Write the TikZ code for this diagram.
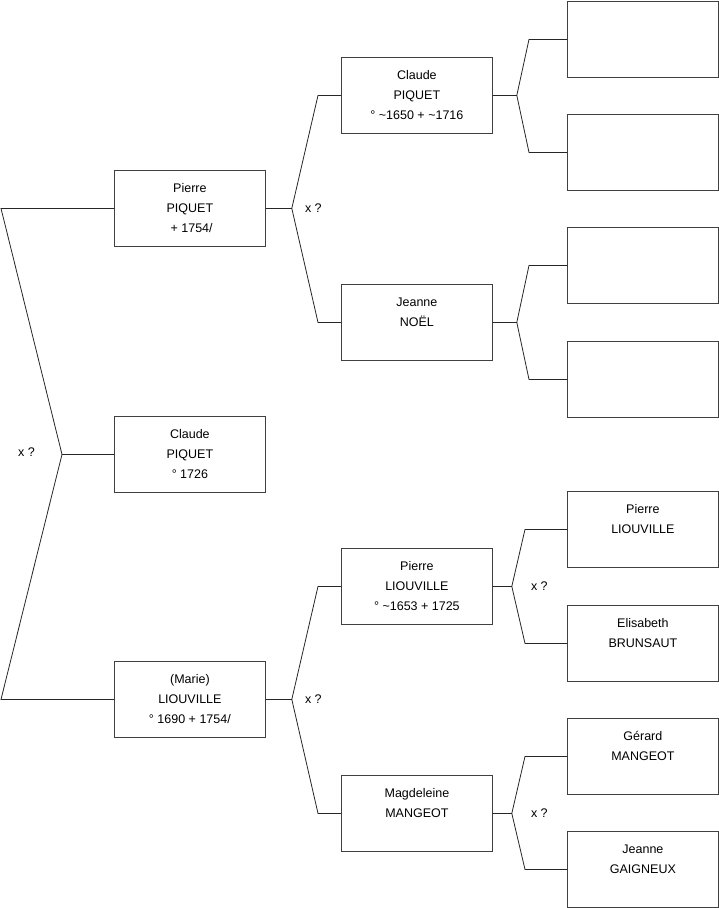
\documentclass[tikz,border=0pt]{standalone}
\usepackage{fontspec}
\setmainfont{Liberation Sans}
\usetikzlibrary{positioning, calc}

\tikzset{
  indbox/.style={draw=black!75, line width=0.8pt, minimum width=151, minimum height=76,
    inner sep=0pt, align=center, anchor=north west, font=\fontsize{12.5}{20}\selectfont},
  link/.style={line width=0.8pt, draw=black!85},
  marr/.style={font=\fontsize{12.5}{20}\selectfont, inner sep=0pt}
}
\newcommand{\indiv}[3]{\strut #1\\\strut #2\\\strut #3}

\begin{document}
\begin{tikzpicture}[x=1pt, y=-1pt]
  \useasboundingbox (0,0) rectangle (719,908);

  % Generation 1
  \node[indbox] (f1) at (114,170) {\indiv{Pierre}{PIQUET}{\ + 1754/}};
  \node[indbox] (c0) at (114,416) {\indiv{Claude}{PIQUET}{° 1726}};
  \node[indbox] (m1) at (114,661) {\indiv{(Marie)}{LIOUVILLE}{° 1690 + 1754/}};

  % Generation 2
  \node[indbox] (ff2) at (341,57)  {\indiv{Claude}{PIQUET}{° \textasciitilde1650 + \textasciitilde1716}};
  \node[indbox] (fm2) at (341,284) {\indiv{Jeanne}{NOËL}{}};
  \node[indbox] (mf2) at (341,548) {\indiv{Pierre}{LIOUVILLE}{° \textasciitilde1653 + 1725}};
  \node[indbox] (mm2) at (341,775) {\indiv{Magdeleine}{MANGEOT}{}};

  % Generation 3
  \node[indbox] (g1) at (567,1)   {};
  \node[indbox] (g2) at (567,114) {};
  \node[indbox] (g3) at (567,227) {};
  \node[indbox] (g4) at (567,341) {};
  \node[indbox] (g5) at (567,491) {\indiv{Pierre}{LIOUVILLE}{}};
  \node[indbox] (g6) at (567,605) {\indiv{Elisabeth}{BRUNSAUT}{}};
  \node[indbox] (g7) at (567,718) {\indiv{Gérard}{MANGEOT}{}};
  \node[indbox] (g8) at (567,831) {\indiv{Jeanne}{GAIGNEUX}{}};

  % Links
  \coordinate (j0) at ($(c0.west)+(-52,0)$);
  \draw[link] (c0.west) -- (j0) -- ([xshift=-113]f1.west) -- (f1.west);
  \draw[link] (j0) -- ([xshift=-113]m1.west) -- (m1.west);

  \draw[link] (f1.east) -- ++(26,0) coordinate (j1) -- ([xshift=-23]ff2.west) -- (ff2.west);
  \draw[link] (j1) -- ([xshift=-23]fm2.west) -- (fm2.west);
  \draw[link] (m1.east) -- ++(26,0) coordinate (j2) -- ([xshift=-23]mf2.west) -- (mf2.west);
  \draw[link] (j2) -- ([xshift=-23]mm2.west) -- (mm2.west);

  \draw[link] (ff2.east) -- ++(24,0) coordinate (j3) -- ([xshift=-38]g1.west) -- (g1.west);
  \draw[link] (j3) -- ([xshift=-38]g2.west) -- (g2.west);
  \draw[link] (fm2.east) -- ++(24,0) coordinate (j4) -- ([xshift=-38]g3.west) -- (g3.west);
  \draw[link] (j4) -- ([xshift=-38]g4.west) -- (g4.west);
  \draw[link] (mf2.east) -- ++(19,0) coordinate (j5) -- ([xshift=-42]g5.west) -- (g5.west);
  \draw[link] (j5) -- ([xshift=-42]g6.west) -- (g6.west);
  \draw[link] (mm2.east) -- ++(19,0) coordinate (j6) -- ([xshift=-42]g7.west) -- (g7.west);
  \draw[link] (j6) -- ([xshift=-42]g8.west) -- (g8.west);

  % Marriage marks
  \node[marr, left=27pt of j0, yshift=2pt] (x0) {x ?};
  \node[marr, right=13pt of j1] (x1) {x ?};
  \node[marr, right=13pt of j2] (x2) {x ?};
  \node[marr, right=19pt of j5] (x5) {x ?};
  \node[marr, right=19pt of j6] (x6) {x ?};
\end{tikzpicture}
\end{document}
